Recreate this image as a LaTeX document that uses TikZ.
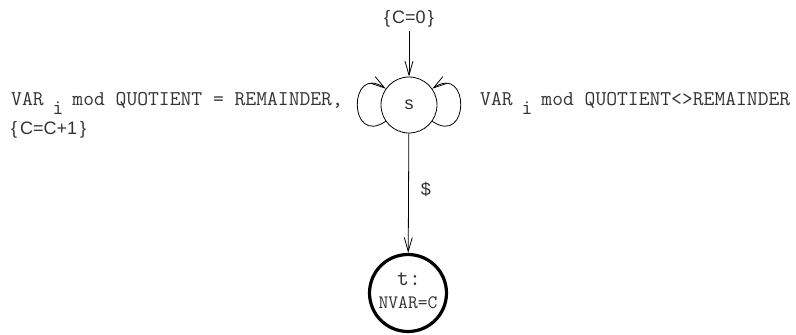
\documentclass[tikz,border=0pt]{standalone}
\usepackage{fontspec}
\setmainfont{Liberation Sans}
\usetikzlibrary{arrows.meta}
\newcommand{\subi}{\raisebox{-9pt}{i}}
\tikzset{
  thinline/.style={line width=0.8pt, draw=black},
  tip/.style={-{Straight Barb[length=14pt,width=8pt,line width=0.8pt]}},
  sstate/.style={circle, draw, line width=0.8pt, minimum size=56pt, inner sep=0pt, font=\fontsize{18}{18}\selectfont, text=black!80},
  tstate/.style={circle, draw, line width=3.2pt, minimum size=77pt, inner sep=0pt},
  monotext/.style={font=\ttfamily\fontsize{21}{22}\selectfont, inner sep=0pt, text=black!80},
  sanstext/.style={font=\fontsize{18}{18}\selectfont, inner sep=0pt, text=black!80},
}
\begin{document}
\begin{tikzpicture}[x=1pt,y=-1pt]
\useasboundingbox (0,0) rectangle (796,335);
\node[sanstext, anchor=base] (init) at (409,23) {\{\hspace{2pt}C=0\hspace{2pt}\}};
\node[sstate] (s) at (409,105) {s};
\node[tstate] (t) at (408,293) {};
\node[monotext, font=\ttfamily\fontsize{23}{23}\selectfont] (tname) at (409,279) {t:};
\node[monotext, font=\ttfamily\fontsize{19}{19}\selectfont] (tout) at (408,303) {NVAR=C};
\coordinate (inittop) at (409,31);
\draw[thinline, tip] (inittop) -- (s);
\draw[thinline, tip] (s) -- node[sanstext, right=12pt, pos=0.47] (dollar) {\$} (t);
% loops
\draw[thinline, tip] (s.215) .. controls (348,147) and (348,63) .. (s.145);
\draw[thinline, tip] (s.-35) .. controls (470,147) and (470,63) .. (s.35);
% labels
\node[monotext, anchor=base west] (lefttext) at (11,105) {VAR\hspace{9pt}\subi\hspace{9pt}mod QUOTIENT = REMAINDER,};
\node[sanstext, anchor=base west] (lefttext2) at (11,134) {\{\,C=C+1\,\}};
\node[monotext, anchor=base west] (righttext) at (480,105) {VAR\hspace{9pt}\subi\hspace{9pt}mod QUOTIENT<>REMAINDER};
\end{tikzpicture}
\end{document}
